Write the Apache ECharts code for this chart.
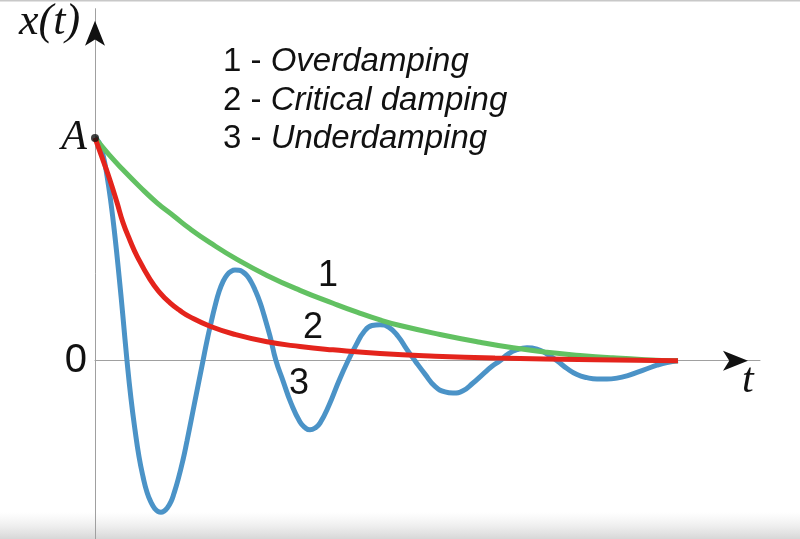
<!DOCTYPE html>
<html>
<head>
<meta charset="utf-8">
<script src="https://cdn.jsdelivr.net/npm/echarts@6/dist/echarts.min.js"></script>
<style>html,body{margin:0;padding:0;background:#fff}#c{width:800px;height:539px}</style>
</head>
<body>
<div id="c"></div>
<script>
// t in arbitrary time units, x(t) in units of A
const overdamping = [[0,1.0],[1.4,0.925],[2.8,0.857],[4.5,0.78],[6.2,0.709],[8,0.645],[9.5,0.592],[11.5,0.53],[14.2,0.455],[17.2,0.383],[20.5,0.316],[23.8,0.258],[26.2,0.218],[28.5,0.183],[30.5,0.158],[34.5,0.118],[38.5,0.083],[41.8,0.058],[45.2,0.038],[48.5,0.024],[51.8,0.013],[55,0.005],[58.3,0.0]];
const critical = [[0,1.0],[0.8,0.9],[1.5,0.81],[2.2,0.71],[2.8,0.62],[3.5,0.54],[4.2,0.47],[5.5,0.365],[6.5,0.305],[7.5,0.26],[8.5,0.225],[9.5,0.197],[11.5,0.155],[14,0.118],[17.2,0.085],[20.5,0.064],[23.8,0.049],[28.5,0.032],[34,0.02],[40,0.012],[50,0.005],[58.3,0.0]];
const underdamping = [[0,1.0],[0.4,0.98],[0.8,0.924],[1.2,0.83],[1.6,0.707],[2.0,0.556],[2.4,0.383],[2.8,0.195],[3.2,0.0],[3.6,-0.17],[4.0,-0.31],[4.4,-0.43],[4.8,-0.52],[5.2,-0.59],[5.6,-0.635],[6.0,-0.665],[6.3,-0.677],[6.6,-0.68],[6.9,-0.675],[7.2,-0.662],[7.6,-0.632],[7.9,-0.595],[8.3,-0.535],[8.8,-0.445],[9.2,-0.36],[9.6,-0.27],[10.0,-0.18],[10.4,-0.09],[10.8,0.0],[11.2,0.09],[11.6,0.17],[12.0,0.245],[12.4,0.31],[12.8,0.355],[13.2,0.385],[13.6,0.401],[14.0,0.407],[14.4,0.406],[14.8,0.398],[15.2,0.382],[15.6,0.355],[16.0,0.318],[16.5,0.262],[16.9,0.205],[17.5,0.11],[18.1,0.0],[18.8,-0.09],[19.6,-0.19],[20.5,-0.275],[21.0,-0.3],[21.5,-0.31],[22.0,-0.302],[22.5,-0.28],[23.4,-0.2],[24.4,-0.09],[25.3,0.0],[26.1,0.07],[26.9,0.13],[27.7,0.158],[28.5,0.162],[29.4,0.15],[30.3,0.11],[31.2,0.05],[32,0.0],[33,-0.06],[34,-0.115],[35,-0.14],[35.8,-0.145],[36.8,-0.135],[37.8,-0.1],[38.8,-0.06],[39.7,-0.025],[40.5,0.0],[41.3,0.03],[42.2,0.05],[43.2,0.058],[44.2,0.052],[45.2,0.03],[46.2,0.0],[47.2,-0.035],[48.2,-0.062],[49.2,-0.076],[50.2,-0.082],[51.2,-0.082],[52.2,-0.078],[53.2,-0.068],[54.2,-0.052],[55.2,-0.036],[56.2,-0.02],[57.2,-0.008],[58.3,0.0]];
const startPoint = [[0,1.0]];
const yTickValues = [0, 1];
const legendLines = [['1 - ','Overdamping'],['2 - ','Critical damping'],['3 - ','Underdamping']];
const curveLabels = ['1','2','3'];
const tMax = 66.5, yMin = -0.8, yMax = 1.58;

const chart = echarts.init(document.getElementById('c'), null, {renderer:'canvas'});
const sans = 'Liberation Sans, Arial, sans-serif';
const serif = 'Liberation Serif, Times New Roman, serif';

const legendY = [62, 101, 139];
const labelPos = [[328,276],[313,328],[299,384]];
const graphics = [
  {type:'rect', shape:{x:0,y:0,width:800,height:1.5}, style:{fill:'#c8c8c8'}, silent:true},
  {type:'rect', shape:{x:0,y:512,width:800,height:27}, style:{fill:new echarts.graphic.LinearGradient(0,0,0,1,[{offset:0,color:'rgba(230,230,230,0)'},{offset:1,color:'rgba(215,215,215,1)'}])}, silent:true, z:-10},
  {type:'text', left:19, top:0, style:{text:'x(t)', font:'italic 44px '+serif, fill:'#111'}},
  {type:'text', left:742, top:360, style:{text:'t', font:'italic 42px '+serif, fill:'#111'}}
];
legendLines.forEach((l,i)=>{
  graphics.push({type:'text', x:223, y:legendY[i], style:{text:'{n|'+l[0]+'}{i|'+l[1]+'}', verticalAlign:'middle', rich:{n:{font:'33px '+sans, fill:'#111'}, i:{font:'italic 33px '+sans, fill:'#111'}}}});
});
curveLabels.forEach((s,i)=>{
  graphics.push({type:'text', x:labelPos[i][0], y:labelPos[i][1], style:{text:s, font:'36px '+sans, fill:'#111', align:'center', verticalAlign:'middle'}});
});

const lineCommon = {smooth:0.5, showSymbol:false};
chart.setOption({
  animation:false,
  backgroundColor:'#fff',
  grid:{left:95, right:40, top:8.7, bottom:0, containLabel:false},
  xAxis:{type:'value', min:0, max:tMax, axisLine:{onZero:true, lineStyle:{color:'#a0a0a0', width:1}}, axisTick:{show:false}, axisLabel:{show:false}, splitLine:{show:false}},
  yAxis:{type:'value', min:yMin, max:yMax, axisLine:{lineStyle:{color:'#a0a0a0', width:1}}, axisTick:{show:false}, splitLine:{show:false},
    axisLabel:{customValues:yTickValues, margin:8, formatter:v=> v===0 ? '{z|0}' : '{a|A}',
      rich:{z:{fontFamily:sans, fontSize:40, color:'#111'}, a:{fontFamily:serif, fontStyle:'italic', fontSize:42, color:'#111'}}}},
  graphic:graphics,
  series:[
    Object.assign({type:'line', data:underdamping, lineStyle:{color:'#4b93c7', width:5}, z:2,
     markPoint:{silent:true, data:[
       {coord:[tMax,0], symbol:'arrow', symbolSize:[15,25], symbolRotate:-90, symbolOffset:[-12,0], itemStyle:{color:'#111'}, label:{show:false}},
       {coord:[0,yMax], symbol:'arrow', symbolSize:[15,25], symbolRotate:0, symbolOffset:[0,12], itemStyle:{color:'#111'}, label:{show:false}}
     ]}}, lineCommon),
    Object.assign({type:'line', data:overdamping, lineStyle:{color:'#62c162', width:5}, z:3}, lineCommon),
    Object.assign({type:'line', data:critical, lineStyle:{color:'#e4241c', width:5, cap:'butt'}, z:4}, lineCommon),
    {type:'scatter', data:startPoint, symbol:'circle', symbolSize:8, itemStyle:{color:'#111'}, z:10}
  ]
});
</script>
</body>
</html>
